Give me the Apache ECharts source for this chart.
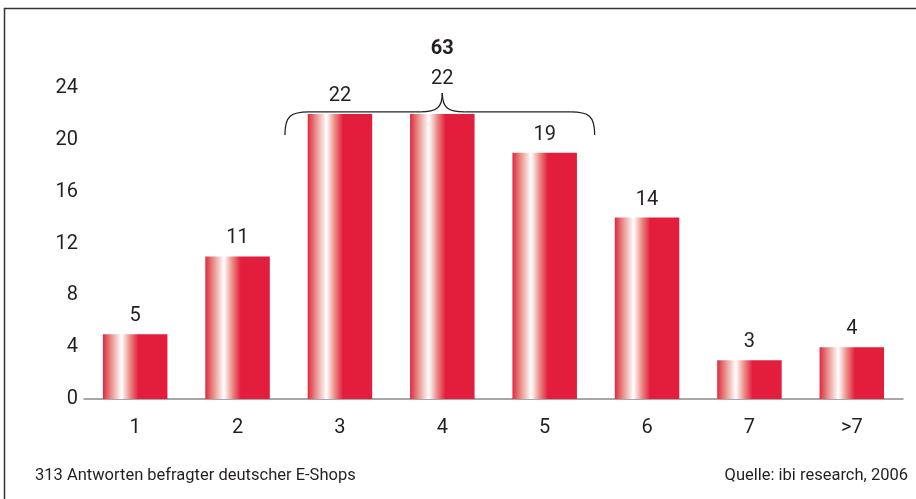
<!DOCTYPE html>
<html><head><meta charset="utf-8">
<script src="https://cdn.jsdelivr.net/npm/echarts@6/dist/echarts.min.js"></script>
<style>html,body{margin:0;padding:0;background:#fff}#c{width:916px;height:499px}</style>
</head><body><div id="c"></div>
<script>
const categories = ['1','2','3','4','5','6','7','>7'];
const values = [5, 11, 22, 22, 19, 14, 3, 4];
const yTicks = [0, 4, 8, 12, 16, 20, 24];
const groupTotal = 63;          // sum of categories 3, 4, 5
const groupFrom = 2, groupTo = 4, groupLabelIdx = 3;
const footLeft = '313 Antworten befragter deutscher E-Shops';
const footRight = 'Quelle: ibi research, 2006';

const font = 'Roboto, "Liberation Sans", sans-serif';
const txt = '#231f20';
const red = '#e31d3c';
const grad = new echarts.graphic.LinearGradient(0,0,1,0,[
  {offset:0, color:'#e0283f'},
  {offset:0.12, color:'#e88a86'},
  {offset:0.29, color:'#ffffff'},
  {offset:0.42, color:'#eb8b85'},
  {offset:0.55, color:red},
  {offset:1, color:red}
]);

const chart = echarts.init(document.getElementById('c'));
const data = values.map((v,i)=>{
  const d = {value:v};
  if(i===groupLabelIdx){
    d.label = {distance:20, formatter:'{b|'+groupTotal+'}\n{n|'+v+'}',
      rich:{b:{fontSize:20,fontWeight:'bold',color:txt,fontFamily:font,lineHeight:30},
            n:{fontSize:20,color:txt,fontFamily:font,lineHeight:30}}};
  }
  return d;
});
chart.setOption({
  animation:false,
  grid:{left:84, right:13, top:88, bottom:100, containLabel:false},
  xAxis:{type:'category', data:categories,
    axisLine:{lineStyle:{color:'#8a8a8a', width:1.5}},
    axisTick:{show:false},
    axisLabel:{fontSize:20, color:txt, fontFamily:font, margin:19}},
  yAxis:{type:'value', min:yTicks[0], max:yTicks[yTicks.length-1], interval:4,
    axisLine:{show:false}, axisTick:{show:false}, splitLine:{show:false},
    axisLabel:{fontSize:20, color:txt, fontFamily:font, margin:6}},
  series:[{type:'bar', data:data, barWidth:'63%',
    itemStyle:{color:grad},
    label:{show:true, position:'top', distance:8, fontSize:20, color:txt, fontFamily:font}}]
});

const p3 = chart.convertToPixel({seriesIndex:0}, [groupFrom, values[groupFrom]]);
const p5 = chart.convertToPixel({seriesIndex:0}, [groupTo, values[groupTo]]);
const pc = chart.convertToPixel({seriesIndex:0}, [groupLabelIdx, values[groupLabelIdx]]);
const yTop = Math.min(p3[1], pc[1]);
const x0 = p3[0]-55, x1 = p5[0]+50, xc = pc[0];
const yH = yTop-2, yE = yTop+21, yP = yTop-21;
const bs = {fill:null, stroke:'#231f20', lineWidth:1.3};
const bracket = [
  {type:'bezierCurve', shape:{x1:x0,y1:yE,cpx1:x0,cpy1:yH+4,cpx2:x0+6,cpy2:yH,x2:x0+24,y2:yH}, style:bs},
  {type:'line', shape:{x1:x0+24,y1:yH,x2:xc-22,y2:yH}, style:bs},
  {type:'bezierCurve', shape:{x1:xc-22,y1:yH,cpx1:xc-6,cpy1:yH,cpx2:xc,cpy2:yH-4,x2:xc,y2:yP}, style:bs},
  {type:'bezierCurve', shape:{x1:xc,y1:yP,cpx1:xc,cpy1:yH-4,cpx2:xc+6,cpy2:yH,x2:xc+22,y2:yH}, style:bs},
  {type:'line', shape:{x1:xc+22,y1:yH,x2:x1-24,y2:yH}, style:bs},
  {type:'bezierCurve', shape:{x1:x1-24,y1:yH,cpx1:x1-6,cpy1:yH,cpx2:x1,cpy2:yH+4,x2:x1,y2:yE}, style:bs}
];

chart.setOption({graphic:[
  {type:'rect', shape:{x:4.5, y:8.5, width:930, height:520}, style:{fill:null, stroke:'#333', lineWidth:1.5}, silent:true},
  ...bracket,
  {type:'text', left:35, top:467, style:{text:footLeft, fontSize:16.5, fill:txt, fontFamily:font}},
  {type:'text', right:8, top:467, style:{text:footRight, fontSize:16.5, fill:txt, fontFamily:font}}
]});
</script></body></html>
